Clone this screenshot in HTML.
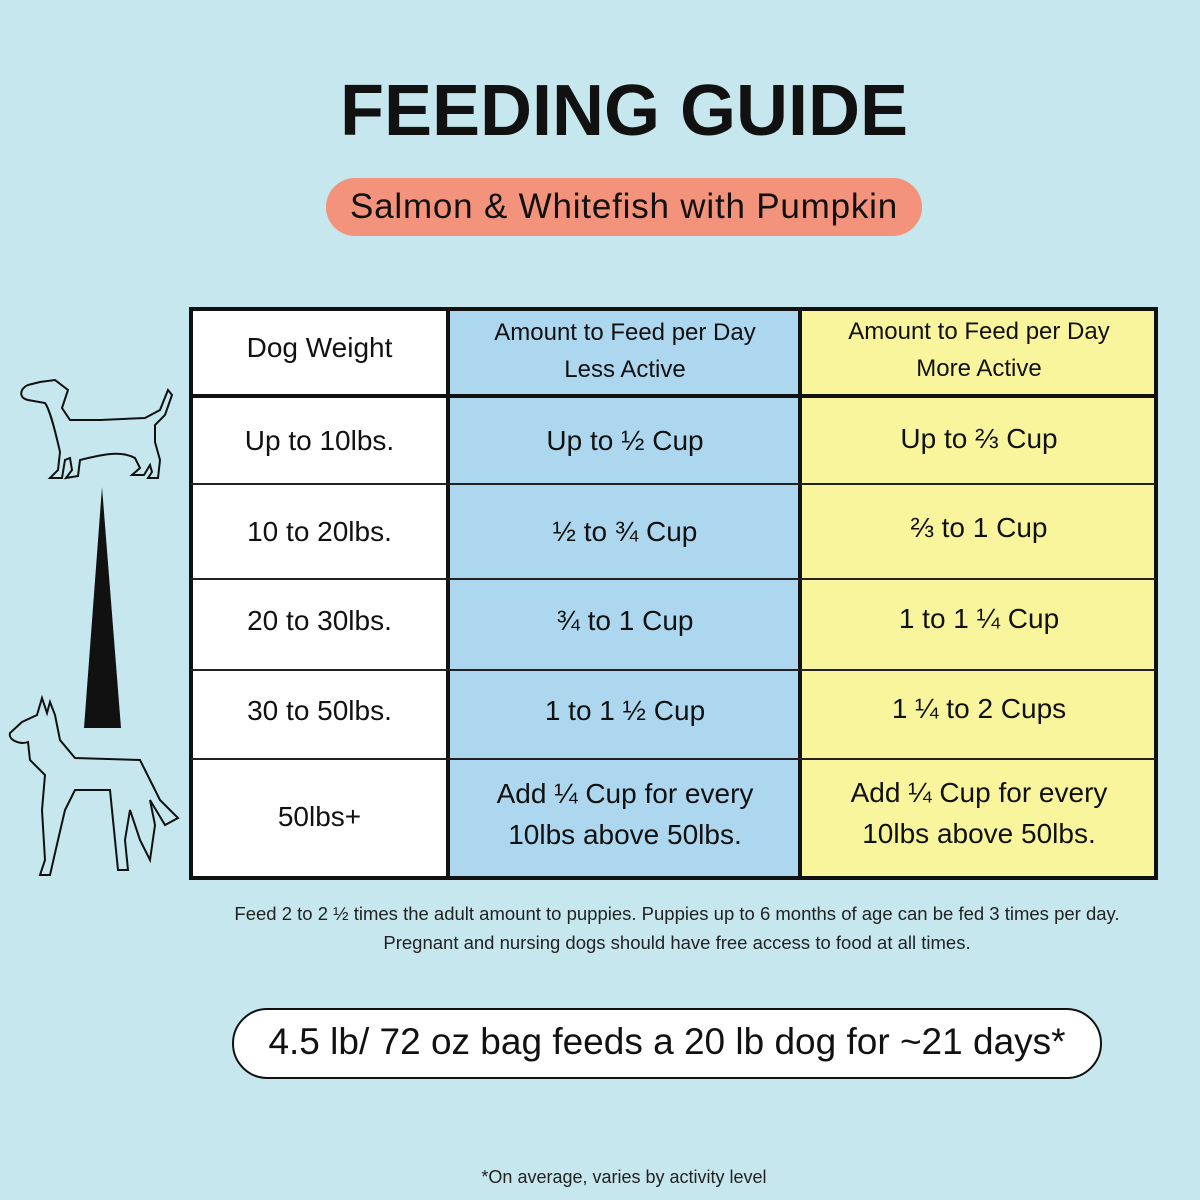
<!DOCTYPE html>
<html><head><meta charset="utf-8"><style>
*{margin:0;padding:0;box-sizing:border-box}
body{width:1200px;height:1200px;background:#c6e7ed;position:relative;overflow:hidden;font-family:"Liberation Sans","DejaVu Sans",sans-serif;color:#111}
.a{position:absolute}
h1{position:absolute;left:0;width:1248px;top:70px;text-align:center;font-size:72px;font-weight:900;letter-spacing:0px}
.pill{left:326px;top:178px;width:596px;height:58px;background:#f4937c;border-radius:29px;text-align:center;line-height:58px;font-size:35px;letter-spacing:.8px}
.c{position:absolute;display:flex;align-items:center;justify-content:center;text-align:center;font-size:28px;line-height:41px}
.h{font-size:24px;line-height:37px}
.hl{position:absolute;background:#222}
</style></head><body>
<h1>FEEDING GUIDE</h1>
<div class="a pill">Salmon &amp; Whitefish with Pumpkin</div>

<div class="a" style="left:189px;top:307px;width:969px;height:573px;background:#fff;border:4px solid #111"></div>
<div class="a" style="left:449px;top:311px;width:351px;height:565px;background:#acd7ef"></div>
<div class="a" style="left:802px;top:311px;width:352px;height:565px;background:#f8f59c"></div>
<div class="hl" style="left:446px;top:309px;width:4px;height:569px;background:#111"></div>
<div class="hl" style="left:798px;top:309px;width:4px;height:569px;background:#111"></div>
<div class="hl" style="left:191px;top:394px;width:965px;height:4px;background:#111"></div>
<div class="hl" style="left:191px;top:483px;width:965px;height:2px"></div>
<div class="hl" style="left:191px;top:578px;width:965px;height:2px"></div>
<div class="hl" style="left:191px;top:669px;width:965px;height:2px"></div>
<div class="hl" style="left:191px;top:758px;width:965px;height:2px"></div>

<div class="c" style="left:193px;top:306px;width:253px;height:83px">Dog Weight</div>
<div class="c h" style="left:450px;top:309px;width:350px;height:83px">Amount to Feed per Day<br>Less Active</div>
<div class="c h" style="left:802px;top:308px;width:354px;height:83px">Amount to Feed per Day<br>More Active</div>

<div class="c" style="left:193px;top:398px;width:253px;height:85px">Up to 10lbs.</div>
<div class="c" style="left:450px;top:398px;width:350px;height:85px">Up to ½ Cup</div>
<div class="c" style="left:802px;top:396px;width:354px;height:85px">Up to ⅔ Cup</div>

<div class="c" style="left:193px;top:485px;width:253px;height:93px">10 to 20lbs.</div>
<div class="c" style="left:450px;top:485px;width:350px;height:93px">½ to ¾ Cup</div>
<div class="c" style="left:802px;top:481px;width:354px;height:93px">⅔ to 1 Cup</div>

<div class="c" style="left:193px;top:576px;width:253px;height:89px">20 to 30lbs.</div>
<div class="c" style="left:450px;top:576px;width:350px;height:89px">¾ to 1 Cup</div>
<div class="c" style="left:802px;top:574px;width:354px;height:89px">1 to 1 ¼ Cup</div>

<div class="c" style="left:193px;top:667px;width:253px;height:87px">30 to 50lbs.</div>
<div class="c" style="left:450px;top:667px;width:350px;height:87px">1 to 1 ½ Cup</div>
<div class="c" style="left:802px;top:665px;width:354px;height:87px">1 ¼ to 2 Cups</div>

<div class="c" style="left:193px;top:758px;width:253px;height:116px">50lbs+</div>
<div class="c" style="left:450px;top:756px;width:350px;height:116px">Add ¼ Cup for every<br>10lbs above 50lbs.</div>
<div class="c" style="left:802px;top:755px;width:354px;height:116px">Add ¼ Cup for every<br>10lbs above 50lbs.</div>

<div class="a" style="left:232px;top:899px;width:890px;text-align:center;font-size:18.5px;line-height:29px;color:#222">Feed 2 to 2 ½ times the adult amount to puppies. Puppies up to 6 months of age can be fed 3 times per day. Pregnant and nursing dogs should have free access to food at all times.</div>

<div class="a" style="left:232px;top:1008px;width:870px;height:71px;background:#fff;border:2px solid #111;border-radius:36px;text-align:center;line-height:64px;font-size:37px">4.5 lb/ 72 oz bag feeds a 20 lb dog for ~21 days*</div>

<div class="a" style="left:0;width:1248px;top:1167px;text-align:center;font-size:18px;color:#222">*On average, varies by activity level</div>

<svg class="a" style="left:0;top:370px" width="200" height="520" viewBox="0 0 200 520" fill="none" stroke="#111" stroke-width="2">
<polygon points="102,117 84,358 121,358" fill="#111" stroke="none"/>
<path d="M28,15 C20,18 18,28 28,30 L45,33 C50,40 55,60 60,82 L58,100 L50,108 L62,108 L65,90 L70,88 L72,100 L66,108 L78,106 L80,90 C100,85 120,80 135,88 L140,98 L132,105 L144,105 L150,95 L152,102 L148,108 L158,108 L160,90 L155,72 L155,55 L165,45 L172,25 L168,20 L160,40 L145,48 L100,50 L70,50 L62,38 L68,20 L55,10 L40,12 Z"/>
<path d="M10,363 C8,370 20,375 28,372 L30,390 L45,405 L42,440 L45,490 L40,505 L50,505 L58,470 L65,440 L75,420 L110,420 L115,470 L118,500 L128,500 L125,470 L130,440 L140,470 L150,490 L155,455 L150,430 L165,455 L178,448 L160,430 L140,390 L75,388 L60,370 L55,345 L50,332 L47,343 L42,328 L37,345 L22,352 Z"/>
</svg>
</body></html>
